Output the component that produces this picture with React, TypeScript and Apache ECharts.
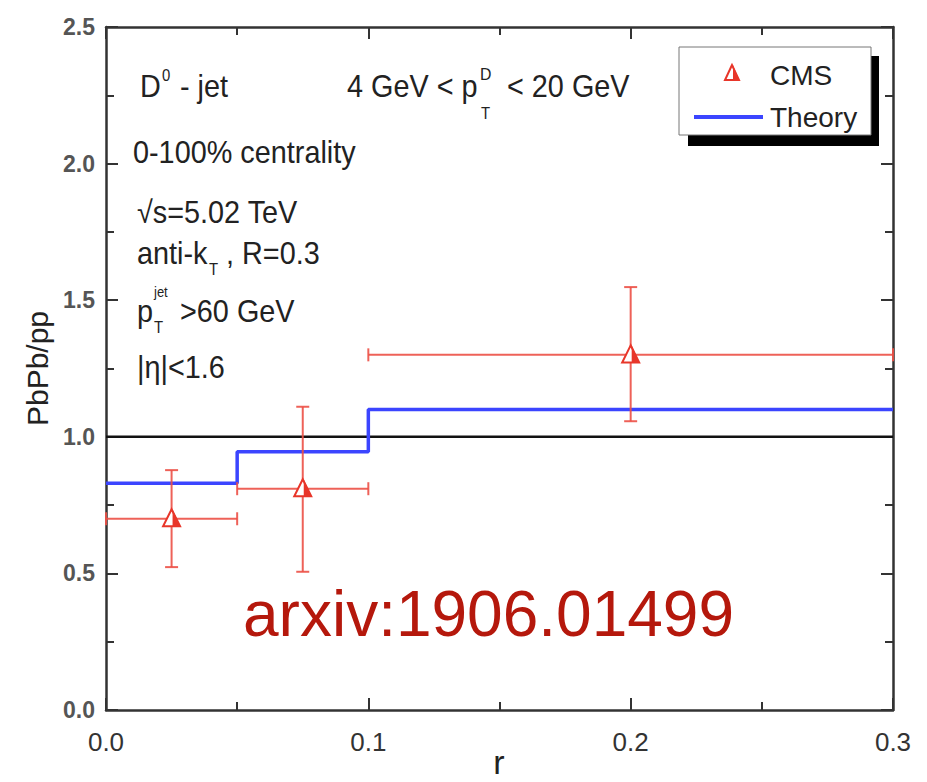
import React, { useEffect, useRef } from "react";
import * as echarts from "echarts";

// ---- data ----
const cmsX = [0.025, 0.075, 0.2];
const cmsY = [0.70, 0.81, 1.30];
const cmsXLow = [0.0, 0.05, 0.1];
const cmsXHigh = [0.05, 0.1, 0.3];
const cmsYLow = [0.523, 0.506, 1.057];
const cmsYHigh = [0.878, 1.11, 1.548];

const theoryX = [0.0, 0.05, 0.1, 0.3];
const theoryY = [0.83, 0.945, 1.10, 1.10];

const refX = [0.0, 0.3];
const refY = [1.0, 1.0];

const xTickLabels = ["0.0", "0.1", "0.2", "0.3"];
const yTickLabels = ["0.0", "0.5", "1.0", "1.5", "2.0", "2.5"];

const FONT = "'Liberation Sans', Arial, Helvetica, sans-serif";

const ERR_COLOR = "rgba(236,80,70,0.9)";
const MARK_COLOR = "#e8362a";
const BLUE = "#3b45ff";

function ann(text: string, x: number, y: number, size = 31, sx = 0.93) {
  return {
    type: "text",
    x,
    y,
    scaleX: sx,
    silent: true,
    style: {
      text,
      fontSize: size,
      fontFamily: FONT,
      fill: "#222",
      align: "left",
      verticalAlign: "middle",
    },
  };
}

export default function App() {
  const ref = useRef<HTMLDivElement>(null);

  useEffect(() => {
    if (!ref.current) return;
    const chart = echarts.init(ref.current, undefined, { renderer: "svg" });

    const cmsData = cmsX.map((x, i) => [x, cmsY[i], cmsXLow[i], cmsXHigh[i], cmsYLow[i], cmsYHigh[i]]);
    const theoryData = theoryX.map((x, i) => [x, theoryY[i]]);
    const refData = refX.map((x, i) => [x, refY[i]]);

    const axisLine = { show: true, onZero: false, lineStyle: { color: "#333", width: 2.5 } };
    const axisTick = { show: true, inside: true, length: 12, lineStyle: { color: "#333", width: 2 } };
    const minorTick = { show: true, splitNumber: 2, length: 8, lineStyle: { color: "#333", width: 2 } };

    const lx = 732, ly = 73;
    const option: any = {
      animation: false,
      grid: { left: 106, right: 34, top: 27, bottom: 72, containLabel: false, outerBoundsMode: "none" },
      xAxis: [
        {
          type: "value",
          position: "bottom",
          min: 0,
          max: 0.3,
          interval: 0.1,
          axisLine,
          axisTick,
          minorTick,
          splitLine: { show: false },
          axisLabel: {
            margin: 19,
            fontSize: 26,
            fontFamily: FONT,
            color: "#333",
            formatter: (v: number) => xTickLabels[Math.round(v * 10)] ?? "",
          },
        },
        {
          type: "value",
          position: "top",
          min: 0,
          max: 0.3,
          interval: 0.1,
          axisLine,
          axisTick,
          minorTick,
          axisLabel: { show: false },
          splitLine: { show: false },
        },
      ],
      yAxis: [
        {
          type: "value",
          position: "left",
          min: 0,
          max: 2.5,
          interval: 0.5,
          axisLine,
          axisTick,
          minorTick,
          splitLine: { show: false },
          axisLabel: {
            margin: 11,
            fontSize: 23,
            fontWeight: "bold",
            fontFamily: FONT,
            color: "#555",
            formatter: (v: number) => yTickLabels[Math.round(v * 2)] ?? "",
          },
          name: "PbPb/pp",
          nameLocation: "middle",
          nameGap: 52,
          nameTextStyle: { fontSize: 30, fontFamily: FONT, color: "#222" },
        },
        {
          type: "value",
          position: "right",
          min: 0,
          max: 2.5,
          interval: 0.5,
          axisLine,
          axisTick,
          minorTick,
          axisLabel: { show: false },
          splitLine: { show: false },
        },
      ],
      series: [
        {
          name: "ref",
          type: "line",
          data: refData,
          symbol: "none",
          lineStyle: { color: "#111", width: 2.5 },
          silent: true,
          z: 2,
        },
        {
          name: "Theory",
          type: "line",
          step: "end",
          data: theoryData,
          symbol: "none",
          lineStyle: { color: BLUE, width: 3.5 },
          silent: true,
          z: 3,
        },
        {
          name: "CMS",
          type: "custom",
          data: cmsData,
          encode: { x: 0, y: 1 },
          z: 4,
          renderItem: (params: any, api: any) => {
            const x = api.value(0), y = api.value(1);
            const c = api.coord([x, y]);
            const l = api.coord([api.value(2), y]);
            const r = api.coord([api.value(3), y]);
            const lo = api.coord([x, api.value(4)]);
            const hi = api.coord([x, api.value(5)]);
            const cap = 6.5;
            const ls = { stroke: ERR_COLOR, lineWidth: 2 };
            const h = 9.5, w = 8.5;
            return {
              type: "group",
              children: [
                { type: "line", shape: { x1: l[0], y1: c[1], x2: r[0], y2: c[1] }, style: ls },
                { type: "line", shape: { x1: l[0], y1: c[1] - cap, x2: l[0], y2: c[1] + cap }, style: ls },
                { type: "line", shape: { x1: r[0], y1: c[1] - cap, x2: r[0], y2: c[1] + cap }, style: ls },
                { type: "line", shape: { x1: c[0], y1: lo[1], x2: c[0], y2: hi[1] }, style: ls },
                { type: "line", shape: { x1: c[0] - cap, y1: lo[1], x2: c[0] + cap, y2: lo[1] }, style: ls },
                { type: "line", shape: { x1: c[0] - cap, y1: hi[1], x2: c[0] + cap, y2: hi[1] }, style: ls },
                {
                  type: "polygon",
                  shape: { points: [[c[0], c[1] - h], [c[0] - w, c[1] + h * 0.8], [c[0] + w, c[1] + h * 0.8]] },
                  style: { fill: "#fff", stroke: MARK_COLOR, lineWidth: 2 },
                },
                {
                  type: "polygon",
                  shape: { points: [[c[0] + 1, c[1] - h], [c[0] + w, c[1] + h * 0.8], [c[0] + 1, c[1] + h * 0.8]] },
                  style: { fill: MARK_COLOR },
                },
              ],
            };
          },
        },
      ],
      graphic: [
        // x axis title
        {
          type: "text",
          x: 499,
          y: 762,
          silent: true,
          style: { text: "r", fontSize: 34, fontFamily: FONT, fill: "#222", align: "center", verticalAlign: "middle" },
        },
        // annotations
        ann("D", 140, 86),
        ann("0", 162, 75, 16),
        ann("- jet", 180, 86),
        ann("4 GeV < p", 347, 86),
        ann("D", 480, 74, 17),
        ann("T", 481, 113, 16),
        ann("< 20 GeV", 507, 86),
        ann("0-100% centrality", 133, 152),
        ann("√s=5.02 TeV", 137, 212),
        ann("anti-k", 137, 253),
        ann("T", 209, 269, 16),
        ann(", R=0.3", 226, 253),
        ann("p", 137, 311),
        ann("jet", 154, 292, 14),
        ann("T", 154, 327, 16),
        ann(">60 GeV", 180, 311),
        ann("|η|<1.6", 137, 367),
        // citation
        {
          type: "text",
          x: 243,
          y: 614,
          silent: true,
          style: {
            text: "arxiv:1906.01499",
            fontSize: 64,
            fontFamily: FONT,
            fill: "#b5180c",
            align: "left",
            verticalAlign: "middle",
          },
        },
        // legend box with shadow
        { type: "rect", shape: { x: 688, y: 56, width: 191, height: 90 }, style: { fill: "#000" }, silent: true },
        { type: "rect", shape: { x: 679, y: 47, width: 192, height: 88 }, style: { fill: "#fff", stroke: "#777", lineWidth: 1 }, silent: true },
        {
          type: "polygon",
          shape: { points: [[lx, ly - 8], [lx - 7, ly + 7], [lx + 7, ly + 7]] },
          style: { fill: "#fff", stroke: MARK_COLOR, lineWidth: 2 },
          silent: true,
        },
        {
          type: "polygon",
          shape: { points: [[lx + 1, ly - 8], [lx + 7, ly + 7], [lx + 1, ly + 7]] },
          style: { fill: MARK_COLOR },
          silent: true,
        },
        { type: "line", shape: { x1: 694, y1: 117, x2: 763, y2: 117 }, style: { stroke: BLUE, lineWidth: 4 }, silent: true },
        {
          type: "text", x: 770, y: 75, silent: true,
          style: { text: "CMS", fontSize: 28, fontFamily: FONT, fill: "#222", align: "left", verticalAlign: "middle" },
        },
        {
          type: "text", x: 770, y: 117, silent: true,
          style: { text: "Theory", fontSize: 28, fontFamily: FONT, fill: "#222", align: "left", verticalAlign: "middle" },
        },
      ],
    };

    chart.setOption(option);
    return () => chart.dispose();
  }, []);

  return (
    <div
      ref={ref}
      style={{ position: "fixed", left: 0, top: 0, width: 927, height: 782, background: "#fff" }}
    />
  );
}
